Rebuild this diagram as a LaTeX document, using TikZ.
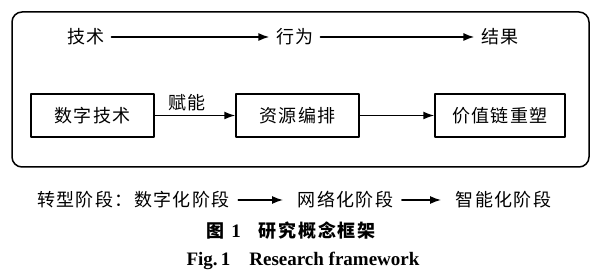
\documentclass[tikz,border=0pt]{standalone}
\usepackage{fontspec}
\setmainfont{Liberation Serif}
\newfontfamily\cjk{Noto Sans CJK SC}[LetterSpace=7]
\newfontfamily\cjkcap{Noto Sans CJK SC}[LetterSpace=10]
\usetikzlibrary{arrows.meta,positioning}
\tikzset{
  term/.style={inner sep=3pt,font=\cjk\fontsize{9}{11}\selectfont},
  stagebox/.style={draw,line width=.75pt,minimum height=21.5pt,inner sep=2pt,
    font=\cjk\fontsize{9}{11}\selectfont},
  phase/.style={inner sep=3pt,font=\cjk\fontsize{9}{11}\selectfont},
}
\begin{document}
\begin{tikzpicture}[x=.5pt,y=-.5pt,line width=.9pt,>={Latex[length=5.5pt,width=4pt]},
 line cap=round,line join=round]
\useasboundingbox (0,0) rectangle (600,277);
\draw[line width=.75pt,rounded corners=5pt] (12,12) rectangle (589,167);
% top row
\node[term] (tech) at (86,37) {技术};
\node[term] (beh) at (295,37) {行为};
\node[term] (res) at (500,37) {结果};
\draw[->] (tech)--(beh);
\draw[->] (beh)--(res);
% boxes
\node[stagebox,minimum width=61.5pt] (dig) at (92.5,115.5) {数字技术};
\node[stagebox,minimum width=61.5pt] (orch) at (297.5,115.5) {资源编排};
\node[stagebox,minimum width=65pt] (chain) at (500,115.5) {价值链重塑};
\draw[->,line width=.75pt] (dig)--node[above,pos=.4,inner sep=2pt,
  font=\cjk\fontsize{9}{11}\selectfont] (enab) {赋能} (orch);
\draw[->,line width=.75pt] (orch)--(chain);
% stages
\node[phase,inner sep=0pt] (lead) at (85,200) {转型阶段：};
\node[phase,right=0pt of lead,inner sep=0pt] (s1) {数字化阶段};
\node[phase] (s2) at (345.5,200) {网络化阶段};
\node[phase] (s3) at (503.5,200) {智能化阶段};
\draw[->,line width=.75pt,shorten <=4pt,shorten >=4pt] (s1)--(s2);
\draw[->,line width=.75pt,shorten <=1pt,shorten >=4pt] (s2)--(s3);
% caption
\node[font=\cjkcap\bfseries\fontsize{9}{11}\selectfont] (capzh) at (291,231)
  {图\hspace{3.5pt}{\rmfamily\bfseries\fontsize{9.5}{11}\selectfont 1}\quad 研究概念框架};
\node[font=\bfseries\fontsize{9.5}{11}\selectfont] (capen) at (303,261)
  {Fig.\,1\quad Research framework};
\end{tikzpicture}
\end{document}
